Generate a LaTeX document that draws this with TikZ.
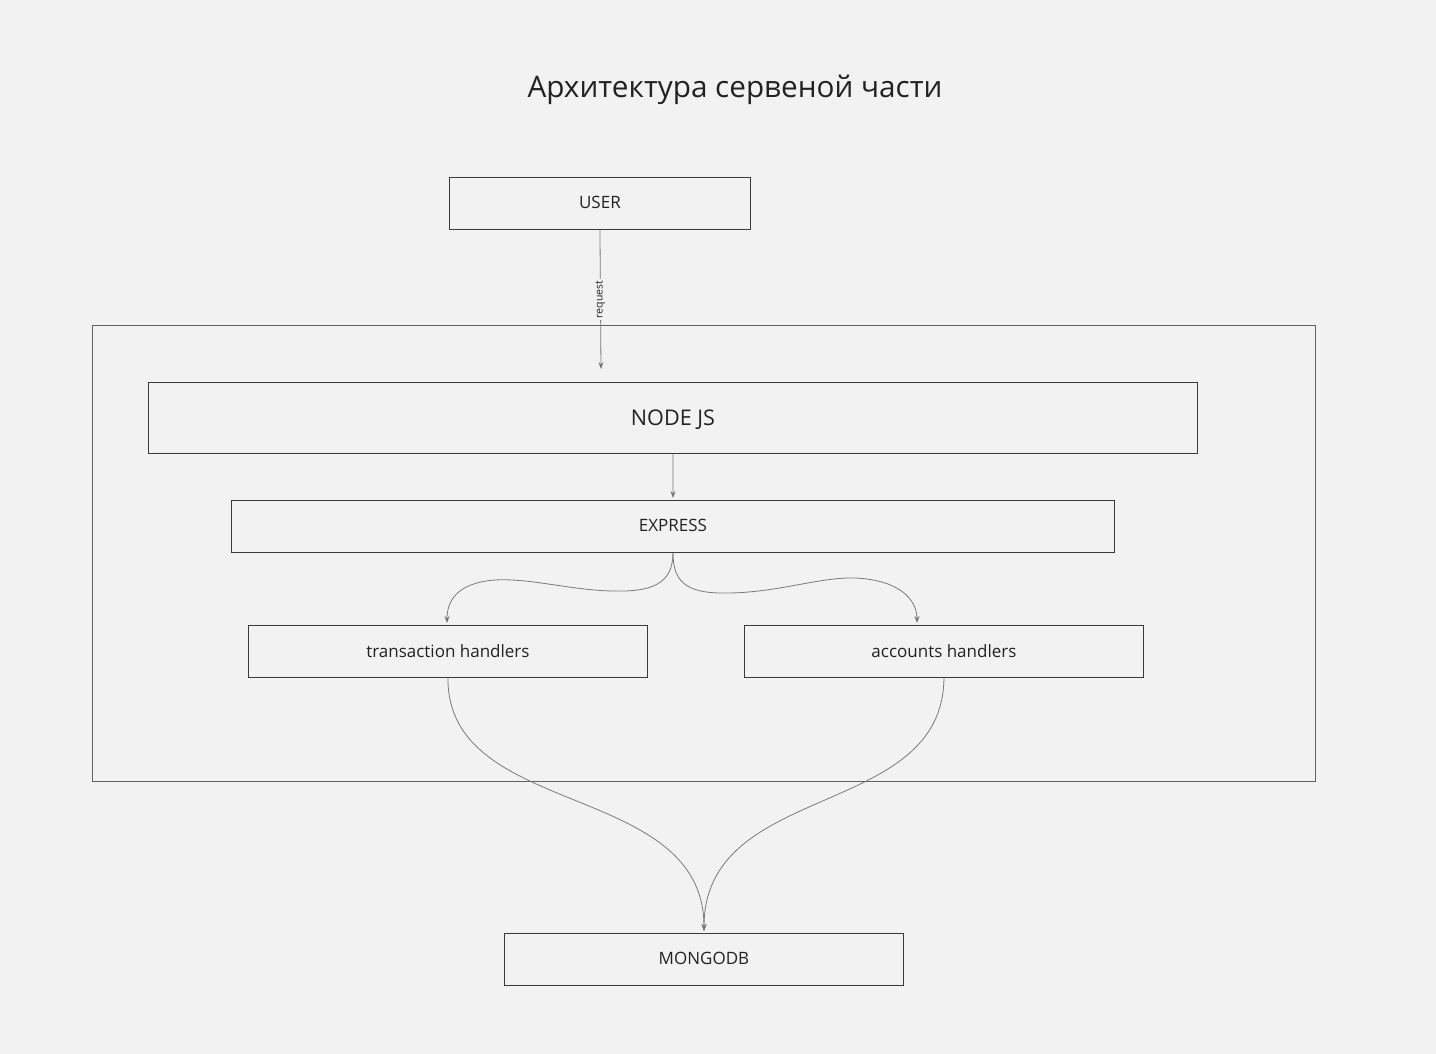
\documentclass[tikz,border=0pt]{standalone}
\usepackage{fontspec}
\setmainfont{Open Sans}
\usetikzlibrary{arrows.meta}
\definecolor{bg}{HTML}{F2F2F2}
\definecolor{boxline}{HTML}{3A3A3A}
\definecolor{conn}{HTML}{7A7A7A}
\definecolor{txt}{HTML}{222222}
\begin{document}
\begin{tikzpicture}[x=1pt,y=-1pt,
  box/.style={draw=boxline,line width=0.9pt,inner sep=0pt,anchor=north west,text=txt,font=\fontsize{17}{20}\selectfont,text depth=1.5pt},
  conn/.style={draw=conn,line width=0.8pt,-{Stealth[length=7pt,width=5pt,fill=black]}}]
\fill[bg] (0,0) rectangle (1436,1054);
\useasboundingbox (0,0) rectangle (1436,1054);
\node[text=txt,font=\fontsize{29.7}{33}\selectfont] (title) at (735,90) {Архитектура сервеной части};
\node[draw=boxline!80,line width=0.9pt,minimum width=1223pt,minimum height=456pt,anchor=north west,inner sep=0pt] (frame) at (92,325) {};
\node[box,minimum width=301pt,minimum height=52pt] (user) at (449,177) {USER};
\node[box,minimum width=1049pt,minimum height=71pt,font=\fontsize{21.6}{25}\selectfont] (node) at (148,382) {NODE JS};
\node[box,minimum width=883pt,minimum height=52pt] (express) at (231,500) {EXPRESS};
\node[box,minimum width=399pt,minimum height=52pt] (trans) at (248,625) {transaction handlers};
\node[box,minimum width=399pt,minimum height=52pt] (acc) at (744,625) {accounts handlers};
\node[box,minimum width=399pt,minimum height=52pt] (mongo) at (504,933) {MONGODB};
\coordinate (reqend) at (601,369);
\draw[conn] (user.south) -- node[rotate=90,fill=bg,inner sep=1.5pt,text=txt,font=\fontsize{10.5}{12}\selectfont] {request} (reqend);
\coordinate (expend) at (673,498);
\draw[conn] (node.south) -- (expend);
\coordinate (transtop) at (447,623);
\coordinate (acctop) at (917,623);
\draw[conn] (express.south) .. controls (673,585) and (650,592) .. (612,591)
  .. controls (570,590) and (530,578) .. (495,580)
  .. controls (455,583) and (447,603) .. (transtop);
\draw[conn] (express.south) .. controls (673,585) and (690,594) .. (730,593)
  .. controls (780,592) and (820,577) .. (855,578)
  .. controls (900,580) and (917,600) .. (acctop);
\coordinate (mtop) at (704,931);
\draw[conn] (trans.south) .. controls (447,820) and (704,780) .. (mtop);
\draw[conn] (acc.south) .. controls (943,820) and (704,780) .. (mtop);
\end{tikzpicture}
\end{document}
